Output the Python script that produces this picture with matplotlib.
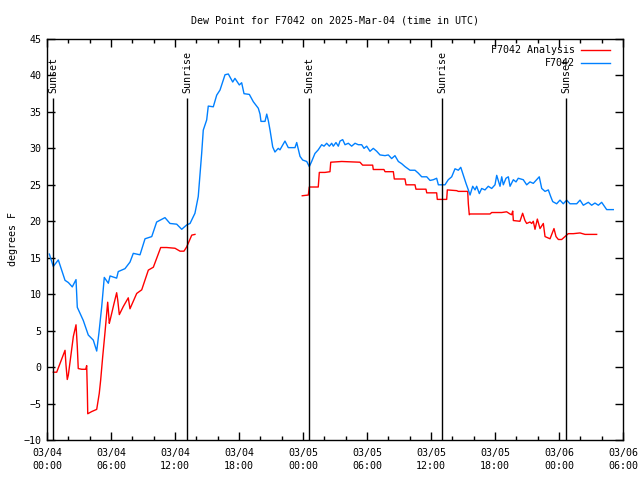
import matplotlib
matplotlib.use("Agg")
import matplotlib.pyplot as plt
import numpy as np
from matplotlib.ticker import MultipleLocator

# hours since 2025-03-04 00:00 UTC
obs_hours = [0.22, 0.59, 1.06, 1.69, 2.0, 2.37, 2.72, 2.84, 3.40, 3.87, 4.34, 4.66, 4.87, 5.13,
             5.37, 5.75, 5.91, 6.53, 6.68, 7.31, 7.78, 8.09, 8.72, 9.19, 9.82, 10.28, 11.06,
             11.53, 12.16, 12.63, 13.10, 13.41, 13.87, 14.18, 14.50, 14.65, 14.97, 15.12, 15.59,
             15.91, 16.22, 16.69, 17.0, 17.41, 17.62, 18.03, 18.25, 18.47, 18.97, 19.34, 19.81,
             19.97, 20.06, 20.44, 20.6, 20.75, 20.91, 21.16, 21.37, 21.68, 21.84, 22.31, 22.62,
             23.25, 23.41,
             23.72, 23.97, 24.35, 24.59, 24.81, 25.12, 25.43, 25.75, 25.97, 26.22, 26.47, 26.69,
             26.84, 27.09, 27.31, 27.47, 27.72, 27.94, 28.25, 28.56, 28.88, 29.18, 29.50, 29.72,
             29.97, 30.28, 30.59, 30.91, 31.22, 31.69, 32.0, 32.31, 32.62, 32.94, 33.25, 33.56,
             34.03, 34.50, 34.81, 35.13, 35.60, 35.91,
             36.22, 36.53, 36.69, 37.31, 37.62, 37.94, 38.25, 38.56, 38.79, 39.03, 39.28, 39.50,
             39.66, 39.91, 40.13, 40.28, 40.53, 40.75, 41.06, 41.37, 41.69, 42.0, 42.16, 42.47,
             42.63, 42.78, 43.03, 43.25, 43.41, 43.72, 43.97, 44.18, 44.65, 44.97, 45.28, 45.59,
             45.90, 46.15, 46.38, 46.69, 47.0, 47.22, 47.41,
             47.78, 48.09, 48.40, 48.72, 49.03, 49.66, 49.97, 50.28, 50.75, 51.06, 51.37, 51.69,
             52.0, 52.47, 53.09]
obs_dewpt = [15.5, 13.8, 14.7, 11.9, 11.6, 11.0, 12.0, 8.2, 6.4, 4.4, 3.7, 2.2, 4.7, 8.3,
             12.3, 11.5, 12.5, 12.2, 13.1, 13.5, 14.4, 15.6, 15.4, 17.6, 17.9, 19.9, 20.5,
             19.7, 19.6, 18.9, 19.5, 19.7, 21.1, 23.4, 29.3, 32.5, 33.9, 35.8, 35.7,
             37.3, 38.0, 40.1, 40.2, 39.1, 39.6, 38.7, 39.0, 37.5, 37.4, 36.4, 35.5,
             34.7, 33.7, 33.7, 34.7, 33.8, 32.5, 30.2, 29.5, 30.0, 29.8, 31.0, 30.1,
             30.1, 30.8,
             28.9, 28.4, 28.2, 27.5, 28.2, 29.3, 29.8, 30.5, 30.3, 30.7, 30.3, 30.7,
             30.3, 30.8, 30.3, 31.0, 31.2, 30.5, 30.7, 30.3, 30.7, 30.5, 30.5, 30.0,
             30.3, 29.6, 30.0, 29.6, 29.1, 29.0, 29.1, 28.6, 29.0, 28.2, 27.9, 27.5,
             27.0, 27.0, 26.6, 26.1, 26.1, 25.6,
             25.7, 25.9, 25.0, 25.0, 25.7, 26.1, 27.2, 27.0, 27.4, 26.3, 25.2, 24.3,
             23.6, 24.8, 24.3, 24.8, 23.8, 24.5, 24.3, 24.8, 24.5, 25.0, 26.3, 24.8,
             26.1, 25.0, 25.9, 26.1, 24.8, 25.7, 25.4, 25.9, 25.7, 25.0, 25.4, 25.2,
             25.7, 26.1, 24.5, 24.1, 24.3, 23.4, 22.7,
             22.4, 22.9, 22.4, 22.9, 22.4, 22.4, 22.9, 22.2, 22.6, 22.2, 22.5, 22.2,
             22.6, 21.6, 21.6]

ana_hours = [0.59, 0.91, 1.69, 1.78, 1.90, 2.0, 2.47, 2.72, 2.84, 2.93, 3.25, 3.63, 3.72, 3.78,
             3.82, 4.19, 4.66, 4.90, 5.03, 5.22, 5.44, 5.69, 5.84, 5.91, 6.28, 6.53, 6.63,
             6.78, 7.15, 7.62, 7.78, 8.41, 8.88, 9.50, 9.97, 10.66, 11.22, 12.0, 12.47, 12.84,
             13.10, 13.57, 13.87,
             18.9,
             23.93, 24.50, 24.59, 25.43, 25.53, 26.06, 26.53, 26.6, 27.63, 29.34, 29.59, 30.53,
             30.59, 31.59, 31.69, 32.47, 32.56, 33.56, 33.66, 34.50, 34.59, 35.53, 35.60, 36.53,
             36.59, 37.47, 37.53, 38.41, 38.56, 39.44, 39.50, 39.59, 39.66, 41.53, 41.69, 42.63,
             43.09, 43.41, 43.56, 43.66, 43.72, 44.34, 44.59, 44.81, 44.97, 45.28, 45.44, 45.59,
             45.75, 45.97,
             46.22, 46.53, 46.69, 47.16, 47.53, 47.72, 47.94, 48.25, 48.56, 48.87, 49.34, 49.97,
             50.44, 51.53]
ana_dewpt = [-0.7, -0.7, 2.3, 0.3, -1.7, -1.1, 4.2, 5.8, 2.8, -0.2, -0.3, -0.3, 0.2, -3.2,
             -6.4, -6.1, -5.8, -3.6, -1.8, 1.4, 4.8, 8.9, 6.0, 6.4, 8.7, 10.2, 9.2,
             7.2, 8.3, 9.5, 8.0, 10.1, 10.6, 13.3, 13.7, 16.4, 16.4, 16.3, 15.9, 15.9,
             16.5, 18.1, 18.2,
             np.nan,
             23.5, 23.6, 24.7, 24.7, 26.7, 26.7, 26.8, 28.1, 28.2, 28.1, 27.7, 27.7,
             27.1, 27.1, 26.8, 26.8, 25.8, 25.8, 25.0, 25.0, 24.4, 24.4, 23.9, 23.9,
             23.0, 23.0, 24.3, 24.2, 24.1, 24.1, 22.4, 20.9, 21.0, 21.0, 21.2, 21.2,
             21.3, 21.0, 20.9, 21.4, 20.1, 20.0, 21.1, 20.1, 19.7, 19.9, 19.7, 20.0,
             18.9, 20.3,
             19.0, 19.7, 17.9, 17.6, 19.0, 17.9, 17.5, 17.5, 17.9, 18.3, 18.3, 18.4,
             18.2, 18.2]

event_hours = [0.56, 13.12, 24.56, 37.03, 48.66]
event_names = ["Sunset", "Sunrise", "Sunset", "Sunrise", "Sunset"]

tick_hours = [0, 6, 12, 18, 24, 30, 36, 42, 48, 54]
tick_labels = ["03/04\n00:00", "03/04\n06:00", "03/04\n12:00", "03/04\n18:00",
               "03/05\n00:00", "03/05\n06:00", "03/05\n12:00", "03/05\n18:00",
               "03/06\n00:00", "03/06\n06:00"]

FONT = "DejaVu Sans Mono"
FS = 7.2
plt.rcParams["font.family"] = FONT
plt.rcParams["font.size"] = FS

fig = plt.figure(figsize=(6.4, 4.8), dpi=100)
ax = fig.add_axes([47/640, 40/480, 576/640, 401/480])

ax.plot(ana_hours, ana_dewpt, color="#ff0000", lw=1.0, label="F7042 Analysis")
ax.plot(obs_hours, obs_dewpt, color="#0080ff", lw=1.0, label="F7042")

for h, name in zip(event_hours, event_names):
    ax.vlines(h, -10, 36.9, color="black", lw=1.0)
    ax.text(h, 37.6, name, rotation=90, ha="center", va="bottom", fontsize=FS)

ax.set_xlim(0, 54)
ax.set_ylim(-10, 45)
ax.set_xticks(tick_hours)
ax.set_xticklabels(tick_labels, linespacing=1.35)
ax.xaxis.set_minor_locator(MultipleLocator(2))
ax.yaxis.set_major_locator(MultipleLocator(5))
ax.tick_params(which="both", direction="in", top=True, right=True, width=1.0)
ax.tick_params(which="major", length=6, pad=4)
ax.tick_params(which="minor", length=3)
ax.tick_params(axis="x", pad=6)
for s in ax.spines.values():
    s.set_linewidth(1.0)

ax.set_ylabel("degrees F", fontsize=FS, labelpad=4)
ax.set_title("Dew Point for F7042 on 2025-Mar-04 (time in UTC)", fontsize=FS, pad=11)

leg = ax.legend(loc="upper right", frameon=False, fontsize=FS, markerfirst=False,
                handlelength=2.9, handletextpad=0.6, borderpad=0, borderaxespad=0,
                labelspacing=0.33,
                bbox_to_anchor=(610/640, (480 - 45)/480), bbox_transform=fig.transFigure)
for t in leg.get_texts():
    t.set_ha("right")

fig.savefig("out.png", dpi=100)
